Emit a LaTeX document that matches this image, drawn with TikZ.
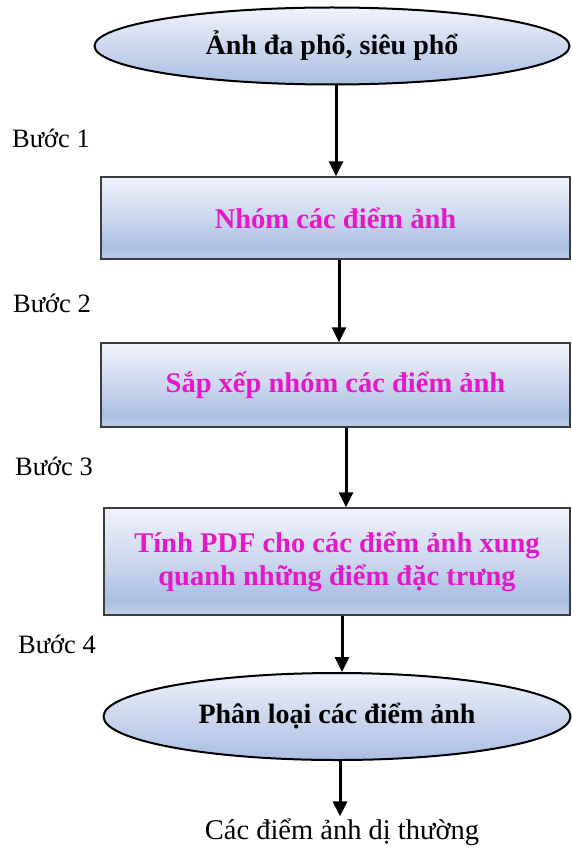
\documentclass[tikz,border=0pt]{standalone}
\usepackage{fontspec}
\setmainfont{Liberation Serif}
\usetikzlibrary{shapes.geometric,arrows.meta}
\definecolor{pinktext}{RGB}{228,24,198}
\definecolor{shtop}{RGB}{240,243,251}
\definecolor{shmid}{RGB}{204,215,238}
\definecolor{shbot}{RGB}{170,190,226}
\definecolor{shlow}{RGB}{192,207,235}
\definecolor{boxline}{RGB}{60,60,60}
\pgfdeclareverticalshading{boxshade}{100bp}{color(0bp)=(shlow); color(25bp)=(shlow); color(32bp)=(shbot); color(50bp)=(shmid); color(75bp)=(shtop); color(100bp)=(shtop)}
\pgfdeclareverticalshading{ellshade}{100bp}{color(0bp)=(shbot); color(25bp)=(shbot); color(50bp)=(shmid); color(75bp)=(shtop); color(100bp)=(shtop)}
\tikzset{
  stepbox/.style={rectangle, draw=boxline, line width=1.3pt, shading=boxshade, inner sep=0pt, align=center, font=\fontsize{28.5}{33}\selectfont\bfseries, text=pinktext},
  ellbox/.style={ellipse, draw=black, line width=2pt, shading=ellshade, inner sep=0pt, font=\fontsize{28}{33}\selectfont\bfseries, text=black},
  steplabel/.style={font=\fontsize{26.5}{30}\selectfont, inner sep=0pt},
  flow/.style={line width=3pt, -{Triangle[length=15pt,width=14pt]}}
}
\begin{document}
\begin{tikzpicture}[x=1pt,y=-1pt]
\useasboundingbox (0,0) rectangle (571,848);
\node[ellbox, minimum width=475, minimum height=77] (e1) at (332,46) {Ảnh đa phổ, siêu phổ};
\node[stepbox, minimum width=469, minimum height=82] (b1) at (335.5,218) {Nhóm các điểm ảnh};
\node[stepbox, minimum width=469, minimum height=84] (b2) at (335.5,385) {Sắp xếp nhóm các điểm ảnh};
\node[stepbox, minimum width=466, minimum height=107] (b3) at (337,561.5) {Tính PDF cho các điểm ảnh xung\\quanh những điểm đặc trưng};
\node[ellbox, minimum width=467, minimum height=87] (e2) at (337,716.5) {Phân loại các điểm ảnh};
\node[font=\fontsize{28.5}{30}\selectfont, inner sep=2pt] (out) at (342,832) {Các điểm ảnh dị thường};
\node[steplabel] (l1) at (51,138) {Bước 1};
\node[steplabel] (l2) at (52,303) {Bước 2};
\node[steplabel] (l3) at (54,466) {Bước 3};
\node[steplabel] (l4) at (57,644) {Bước 4};
\coordinate (x1) at (336,0);
\coordinate (x2) at (339,0);
\coordinate (x3) at (346,0);
\coordinate (x4) at (342,0);
\coordinate (x5) at (340,0);
\draw[flow] (e1.south -| x1) -- (b1.north -| x1);
\draw[flow] (b1.south -| x2) -- (b2.north -| x2);
\draw[flow] (b2.south -| x3) -- (b3.north -| x3);
\draw[flow] (b3.south -| x4) -- (e2.north -| x4);
\draw[flow] (e2.south -| x5) -- (out.north -| x5);
\end{tikzpicture}
\end{document}
